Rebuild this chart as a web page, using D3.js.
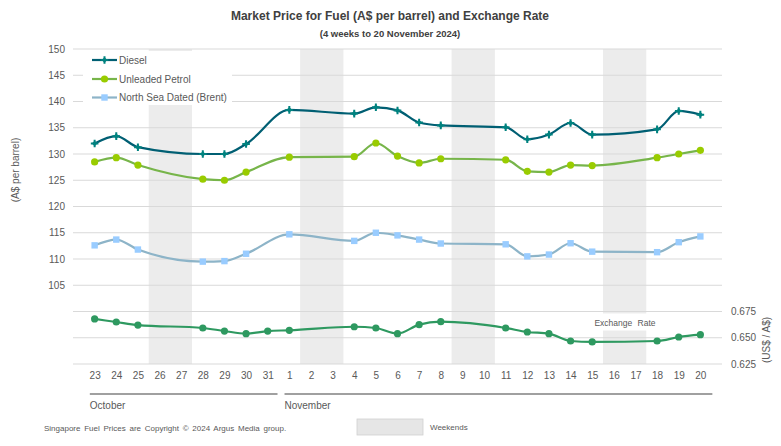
<!DOCTYPE html>
<html><head><meta charset="utf-8">
<script src="https://cdn.jsdelivr.net/npm/d3@7"></script>
<style>html,body{margin:0;padding:0;background:#fff;}svg{display:block;font-family:"Liberation Sans",Arial,sans-serif;}</style>
</head><body><svg id="c" width="781" height="446"></svg>
<script>
const days = ["23","24","25","26","27","28","29","30","31","1","2","3","4","5","6","7","8","9","10","11","12","13","14","15","16","17","18","19","20"];
const months = [{name:"October", from:"23", to:"31"},{name:"November", from:"1", to:"20"}];
const weekends = [["26","27"],["2","3"],["9","10"],["16","17"]];
const diesel = [132.0,133.4,131.3,null,null,130.0,130.0,131.9,null,138.4,null,null,137.7,138.9,138.3,136.0,135.45,null,null,135.1,132.8,133.7,135.9,133.7,null,null,134.7,138.2,137.5];
const petrol = [128.5,129.3,127.9,null,null,125.2,125.0,126.55,null,129.4,null,null,129.5,132.1,129.6,128.3,129.1,null,null,128.9,126.7,126.55,127.9,127.8,null,null,129.3,130.0,130.7];
const brent  = [112.6,113.7,111.8,null,null,109.5,109.6,111.0,null,114.7,null,null,113.45,115.0,114.5,113.7,112.95,null,null,112.8,110.5,110.85,113.0,111.4,null,null,111.3,113.2,114.3];
const fx     = [0.6679,0.6650,0.6621,null,null,0.6593,0.6564,0.6539,0.6564,0.6571,null,null,0.6605,0.6593,0.6539,0.6625,0.6653,null,null,0.6593,0.6555,0.6539,0.6469,0.6460,null,null,0.6469,0.6507,0.6529];
const leftTicks = [105,110,115,120,125,130,135,140,145,150];
const rightTicks = [0.625,0.650,0.675];
const gridTicks = [95,100,105,110,115,120,125,130,135,140,145,150];

const svg = d3.select("#c");
const L = 73, R = 722, T = 49, B = 364;
const x = d3.scalePoint().domain(days).range([L, R]).padding(1);
const step = x.step();
const y = d3.scaleLinear().domain([90,150]).range([B,T]);
const y2 = d3.scaleLinear().domain([0.625,0.925]).range([B,T]);
const txt = "#595959";

// title
svg.append("text").attr("x",390).attr("y",20).attr("text-anchor","middle").attr("font-size",12).attr("font-weight","bold").attr("fill","#404040").text("Market Price for Fuel (A$ per barrel) and Exchange Rate");
svg.append("text").attr("x",390).attr("y",37).attr("text-anchor","middle").attr("font-size",9.5).attr("font-weight","bold").attr("fill","#404040").text("(4 weeks to 20 November 2024)");

// weekend bands
svg.append("g").selectAll("rect").data(weekends).join("rect")
  .attr("x",d=>x(d[0])-step/2).attr("width",d=>x(d[1])-x(d[0])+step)
  .attr("y",T).attr("height",B-T).attr("fill","#ececec");

// gridlines
svg.append("g").selectAll("line").data(gridTicks).join("line")
  .attr("x1",L).attr("x2",R).attr("y1",d=>y(d)).attr("y2",d=>y(d))
  .attr("stroke","#d9d9d9").attr("stroke-width",1);
svg.append("line").attr("x1",L).attr("x2",R).attr("y1",B).attr("y2",B).attr("stroke","#d9d9d9");

// left axis
const la = svg.append("g").attr("transform",`translate(${L},0)`)
  .call(d3.axisLeft(y).tickValues(leftTicks).tickSize(0).tickPadding(8).tickFormat(d3.format("d")));
la.select(".domain").remove();
la.selectAll("text").attr("font-size",10).attr("fill",txt).attr("font-family","Liberation Sans, Arial, sans-serif");

// right axis
const ra = svg.append("g").attr("transform",`translate(${R},0)`)
  .call(d3.axisRight(y2).tickValues(rightTicks).tickSize(0).tickPadding(9).tickFormat(d3.format(".3f")));
ra.select(".domain").remove();
ra.selectAll("text").attr("font-size",10).attr("fill",txt).attr("font-family","Liberation Sans, Arial, sans-serif");

// bottom axis
const ba = svg.append("g").attr("transform",`translate(0,${B})`)
  .call(d3.axisBottom(x).tickSize(0).tickPadding(8));
ba.select(".domain").remove();
ba.selectAll("text").attr("font-size",10).attr("fill",txt).attr("font-family","Liberation Sans, Arial, sans-serif");

// month bars
months.forEach(m=>{
  const x0 = x(m.from)-step/2+6, x1 = x(m.to)+step/2-1;
  svg.append("line").attr("x1",x0).attr("x2",m.name==="November"?x(m.to)+12:x1).attr("y1",394).attr("y2",394).attr("stroke","#808080").attr("stroke-width",1.3);
  svg.append("text").attr("x",x0).attr("y",409).attr("font-size",10).attr("fill",txt).text(m.name);
});

// axis titles
svg.append("text").attr("transform","translate(19,170) rotate(-90)").attr("text-anchor","middle").attr("font-size",10).attr("fill",txt).text("(A$ per barrel)");
svg.append("text").attr("transform","translate(770,340) rotate(-90)").attr("text-anchor","middle").attr("font-size",10).attr("fill",txt).text("(US$ / A$)");

// legend box (white) and exchange label box
svg.append("rect").attr("x",83).attr("y",51).attr("width",149).attr("height",54).attr("fill","#fff");
svg.append("rect").attr("x",590).attr("y",313.5).attr("width",70).attr("height",17).attr("fill","#fff");
svg.append("text").attr("x",625).attr("y",326).attr("text-anchor","middle").attr("font-size",8.5).attr("fill",txt).attr("word-spacing",3).text("Exchange Rate");

// series
const crossPath = "M-1,-3.8L1,-3.8L1,-1L3.8,-1L3.8,1L1,1L1,3.8L-1,3.8L-1,1L-3.8,1L-3.8,-1L-1,-1Z";
const diamondPath = "M0,-2.8L2.8,0L0,2.8L-2.8,0Z";
function marker(g, type, color){
  if(type==="cross"){ g.append("path").attr("d",crossPath).attr("fill",color); g.append("path").attr("d",diamondPath).attr("fill",color); }
  else if(type==="circle"){ g.append("circle").attr("r",3.6).attr("fill",color); }
  else if(type==="square"){ g.append("rect").attr("x",-3.2).attr("y",-3.2).attr("width",6.4).attr("height",6.4).attr("fill",color); }
}
const series = [
  {name:"Diesel", vals:diesel, sc:y, line:"#005f73", mk:"#00827f", type:"cross"},
  {name:"Unleaded Petrol", vals:petrol, sc:y, line:"#77b54a", mk:"#99cc00", type:"circle"},
  {name:"North Sea Dated (Brent)", vals:brent, sc:y, line:"#8db4c8", mk:"#99ccff", type:"square"},
  {name:"Exchange Rate", vals:fx, sc:y2, line:"#2e9960", mk:"#2e9960", type:"circle"}
];
series.forEach(s=>{
  const pts = days.map((d,i)=>({d, v:s.vals[i]})).filter(p=>p.v!==null);
  const ln = d3.line().x(p=>x(p.d)).y(p=>s.sc(p.v)).curve(d3.curveMonotoneX);
  svg.append("path").attr("d",ln(pts)).attr("fill","none").attr("stroke",s.line).attr("stroke-width",2.2).attr("stroke-linejoin","round");
  pts.forEach(p=>{ const g = svg.append("g").attr("transform",`translate(${x(p.d)},${s.sc(p.v)})`); marker(g,s.type,s.mk); });
});

// legend
series.slice(0,3).forEach((s,i)=>{
  const ly = [60,79,97.5][i];
  svg.append("line").attr("x1",92).attr("x2",117).attr("y1",ly).attr("y2",ly).attr("stroke",s.line).attr("stroke-width",2.2);
  marker(svg.append("g").attr("transform",`translate(104.5,${ly})`), s.type, s.mk);
  svg.append("text").attr("x",119).attr("y",ly+3.5).attr("font-size",10).attr("fill",txt).text(s.name);
});

// footer
svg.append("text").attr("x",44).attr("y",431).attr("font-size",8).attr("fill",txt).attr("word-spacing",1.5).text("Singapore Fuel Prices are Copyright © 2024 Argus Media group.");
svg.append("rect").attr("x",357).attr("y",419).attr("width",66).attr("height",16).attr("fill","#e6e6e6").attr("stroke","#d0d0d0").attr("stroke-width",0.8);
svg.append("text").attr("x",430).attr("y",430).attr("font-size",8).attr("fill",txt).text("Weekends");
</script></body></html>
